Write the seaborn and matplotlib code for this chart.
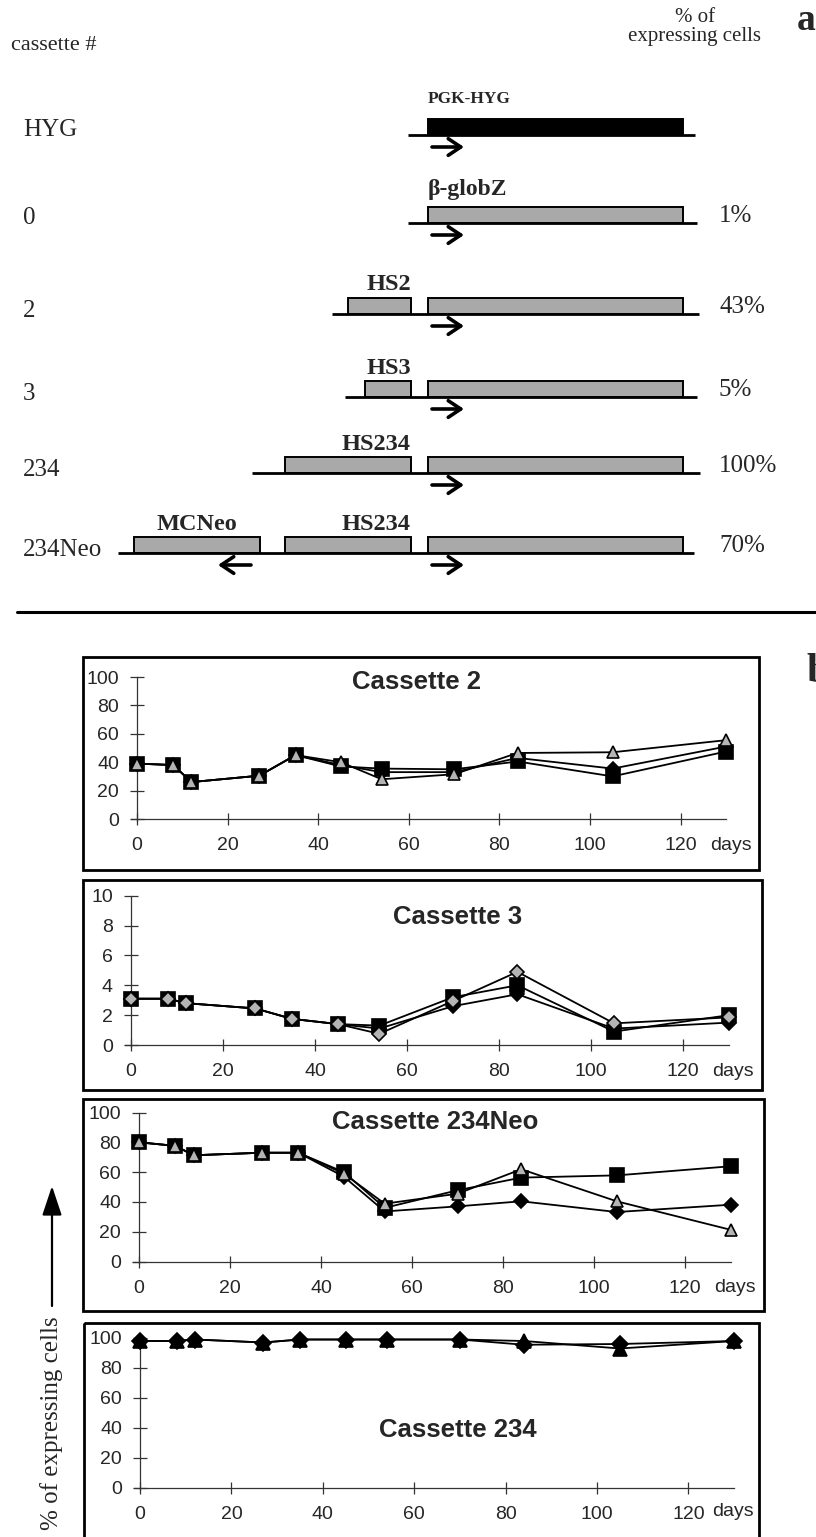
import matplotlib
matplotlib.use("Agg")
import matplotlib.pyplot as plt
import seaborn as sns
import numpy as np
import pandas as pd
from matplotlib.patches import Rectangle

# ---------------- data ----------------
# panel a: constructs
cassettes = ["HYG", "0", "2", "3", "234", "234Neo"]
expressing = ["", "1%", "43%", "5%", "100%", "70%"]
gene_labels = ["PGK-HYG", "\u03b2-globZ", "", "", "", ""]
upstream = [[], [], ["HS2"], ["HS3"], ["HS234"], ["HS234", "MCNeo"]]

# panel b: time courses
days = [0, 8, 12, 27, 35, 45, 54, 70, 84, 105, 130]
x_ticks = [0, 20, 40, 60, 80, 100, 120]

c2_square = [39, 38, 26, 30.5, 45, 37, 35.5, 35, 40.5, 30, 47.5]
c2_diamond = [39, 38, 26, 30.5, 45, 38, 33, 33, 43, 35.5, 51]
c2_triangle = [39, 38, 26, 30.5, 45, 40, 28, 31.5, 46.5, 47, 55.5]

c3_square = [3.1, 3.1, 2.8, 2.45, 1.75, 1.4, 1.3, 3.2, 4.0, 0.9, 2.0]
c3_diamond_black = [3.1, 3.1, 2.8, 2.45, 1.75, 1.4, 1.1, 2.6, 3.4, 1.1, 1.5]
c3_diamond_gray = [3.1, 3.1, 2.8, 2.45, 1.75, 1.4, 0.75, 2.95, 4.9, 1.45, 1.85]

neo_square = [80, 77.6, 71.3, 73, 73, 60, 36, 47.8, 56.3, 57.8, 63.9]
neo_diamond = [80, 77.6, 71.3, 73, 73, 57, 33.6, 37, 40.4, 33.2, 38.1]
neo_triangle = [80, 77.6, 71.3, 73, 73, 59, 38.8, 45.5, 61.9, 40.4, 21.3]

c234_diamond = [98, 98, 99, 97, 99, 99, 99, 99, 95.5, 96, 98]
c234_triangle = [98, 98, 99, 97, 99, 99, 99, 99, 98, 93, 98]

# ---------------- style ----------------
sns.set_style("white")
plt.rcParams["font.family"] = ["Liberation Sans", "DejaVu Sans"]
SERIF = ["Liberation Serif", "DejaVu Serif"]
SANS = ["Liberation Sans", "DejaVu Sans"]

W, H = 816, 1537
fig = plt.figure(figsize=(W / 100, H / 100), dpi=100)
ov = fig.add_axes([0, 0, 1, 1])
ov.set_xlim(0, W)
ov.set_ylim(H, 0)
ov.axis("off")

# ---------------- panel a ----------------
GRAY = "#a9a9a9"
row_y = [135, 223, 314, 397, 473, 553]
line_x = [(408, 695), (408, 697), (332, 699), (345, 697), (252, 700), (118, 694)]
box_x = {"HS2": (348, 411), "HS3": (365, 411), "HS234": (285, 411), "MCNeo": (134, 260)}
gene_x = (428, 683)
bar_h = 16

ov.text(797, 30, "a", fontsize=27, fontweight="bold", family=SERIF, ha="left", va="baseline")
ov.text(695, 17, "% of", fontsize=15, family=SERIF, ha="center", va="center")
ov.text(695, 36, "expressing cells", fontsize=15, family=SERIF, ha="center", va="center")
ov.text(11, 45, "cassette #", fontsize=16, family=SERIF, ha="left", va="center")

for i, name in enumerate(cassettes):
    y = row_y[i]
    x0, x1 = line_x[i]
    ov.plot([x0, x1], [y, y], color="black", lw=2.0, solid_capstyle="butt")
    fc = "black" if i == 0 else GRAY
    ov.add_patch(Rectangle((gene_x[0], y - bar_h), gene_x[1] - gene_x[0], bar_h,
                           facecolor=fc, edgecolor="black", lw=1.4))
    if gene_labels[i]:
        if i == 0:
            ov.text(gene_x[0], y - bar_h - 20, gene_labels[i], fontsize=12.5,
                    fontweight="bold", family=SERIF, ha="left", va="center")
        else:
            ov.text(gene_x[0], y - bar_h - 17, gene_labels[i], fontsize=17,
                    fontweight="bold", family=SERIF, ha="left", va="center")
    for el in upstream[i]:
        bx0, bx1 = box_x[el]
        if el == "MCNeo":
            tx, ha = (bx0 + bx1) / 2, "center"
        else:
            tx, ha = bx1, "right"
        ov.add_patch(Rectangle((bx0, y - bar_h), bx1 - bx0, bar_h,
                               facecolor=GRAY, edgecolor="black", lw=1.4))
        ov.text(tx, y - bar_h - 13, el, fontsize=17.5, fontweight="bold",
                family=SERIF, ha=ha, va="center")
    ov.annotate("", xy=(464, y + 12), xytext=(432, y + 12),
                arrowprops=dict(arrowstyle="->,head_length=0.45,head_width=0.3",
                                lw=2.6, color="black", mutation_scale=20,
                                shrinkA=0, shrinkB=0))
    if "MCNeo" in upstream[i]:
        ov.annotate("", xy=(218, y + 12), xytext=(251, y + 12),
                    arrowprops=dict(arrowstyle="->,head_length=0.45,head_width=0.3",
                                    lw=2.6, color="black", mutation_scale=20,
                                    shrinkA=0, shrinkB=0))
    ov.text(23, y - 5 if i < 2 else y - 3, name, fontsize=18, family=SERIF,
            ha="left", va="center")
    if expressing[i]:
        ov.text(719, y - 7, expressing[i], fontsize=18, family=SERIF, ha="left", va="center")

ov.plot([17, 816], [612, 612], color="black", lw=2.2)

# ---------------- panel b ----------------
ov.text(806, 682, "b", fontsize=30, fontweight="bold", family=SERIF, ha="left", va="baseline")

boxes = [(83, 657, 759, 870), (83, 880, 762, 1090), (83, 1099, 764, 1311), (84, 1323, 759, 1560)]
for (bx0, by0, bx1, by1) in boxes:
    ov.add_patch(Rectangle((bx0, by0), bx1 - bx0, by1 - by0, facecolor="none",
                           edgecolor="black", lw=2.0, clip_on=False))

titles = [("Cassette 2", 416, 682), ("Cassette 3", 458, 917),
          ("Cassette 234Neo", 435, 1122), ("Cassette 234", 458, 1430)]
for t, tx, ty in titles:
    ov.text(tx, ty, t, fontsize=18.5, fontweight="bold", family=SANS, ha="center", va="center")

days_pos = [(731, 846), (733, 1071), (735, 1288), (733, 1511)]
for dx, dy in days_pos:
    ov.text(dx, dy, "days", fontsize=14, family=SANS, ha="center", va="center")

# y-axis label with arrow
ov.text(52, 1423, "% of expressing cells", fontsize=18, family=SERIF, rotation=90,
        ha="center", va="center")
ov.annotate("", xy=(52, 1186), xytext=(52, 1306),
            arrowprops=dict(arrowstyle="-|>,head_length=0.9,head_width=0.3", lw=1.6,
                            color="black", mutation_scale=20, shrinkA=0, shrinkB=0))


def make_axes(x0px, xppu, y0px, yppu, xlim, ylim):
    left = x0px + xlim[0] * xppu
    width = (xlim[1] - xlim[0]) * xppu
    bottom_px = y0px - ylim[0] * yppu
    height = (ylim[1] - ylim[0]) * yppu
    ax = fig.add_axes([left / W, 1 - bottom_px / H, width / W, height / H])
    ax.set_xlim(*xlim)
    ax.set_ylim(*ylim)
    ax.patch.set_alpha(0)
    return ax


def style_axes(ax, ymax, ystep):
    for s in ["top", "right"]:
        ax.spines[s].set_visible(False)
    for s in ["left", "bottom"]:
        ax.spines[s].set_color("#333333")
        ax.spines[s].set_linewidth(0.9)
        ax.spines[s].set_position(("data", 0))
    ax.spines["left"].set_bounds(-ymax * 0.012, ymax)
    ax.spines["bottom"].set_bounds(-1.4, 130)
    yt = np.arange(0, ymax + ystep / 2, ystep)
    ax.set_xticks(x_ticks)
    ax.set_xticklabels([str(v) for v in x_ticks])
    ax.set_yticks(yt)
    ax.set_yticklabels([f"{v:g}" for v in yt])
    ax.tick_params(axis="x", bottom=True, direction="inout", length=8, width=0.9,
                   color="#333333", labelsize=14, pad=9)
    ax.tick_params(axis="y", left=True, direction="inout", length=10, width=0.9,
                   color="#333333", labelsize=14, pad=8)
    ax.set_xlabel("")
    ax.set_ylabel("")
    ax.grid(False)


def series(ax, y, marker, fc, ms):
    sns.lineplot(x=days, y=y, ax=ax, color="black", lw=1.3, marker=marker,
                 markersize=ms, markerfacecolor=fc, markeredgecolor="black",
                 markeredgewidth=1.2, errorbar=None, sort=False, legend=False,
                 clip_on=False, zorder=3)


LG = "#b4b4b4"

ax1 = make_axes(137, 4.53, 819, 1.42, (-10, 138), (-8, 112))
series(ax1, c2_square, "s", "black", 10.5)
series(ax1, c2_diamond, "D", "black", 7.5)
series(ax1, c2_triangle, "^", LG, 8.5)
style_axes(ax1, 100, 20)

ax2 = make_axes(131, 4.6, 1045, 14.93, (-10, 138), (-0.8, 11))
series(ax2, c3_square, "s", "black", 10.5)
series(ax2, c3_diamond_black, "D", "black", 7.5)
series(ax2, c3_diamond_gray, "D", LG, 7.5)
style_axes(ax2, 10, 2)

ax3 = make_axes(139, 4.55, 1261.5, 1.49, (-10, 138), (-8, 112))
series(ax3, neo_square, "s", "black", 10.5)
series(ax3, neo_diamond, "D", "black", 7.5)
series(ax3, neo_triangle, "^", LG, 8.5)
style_axes(ax3, 100, 20)

ax4 = make_axes(140, 4.57, 1488, 1.5, (-10, 138), (-8, 112))
series(ax4, c234_diamond, "D", "black", 8)
series(ax4, c234_triangle, "^", "black", 10)
style_axes(ax4, 100, 20)

fig.savefig("out.png", dpi=100)
